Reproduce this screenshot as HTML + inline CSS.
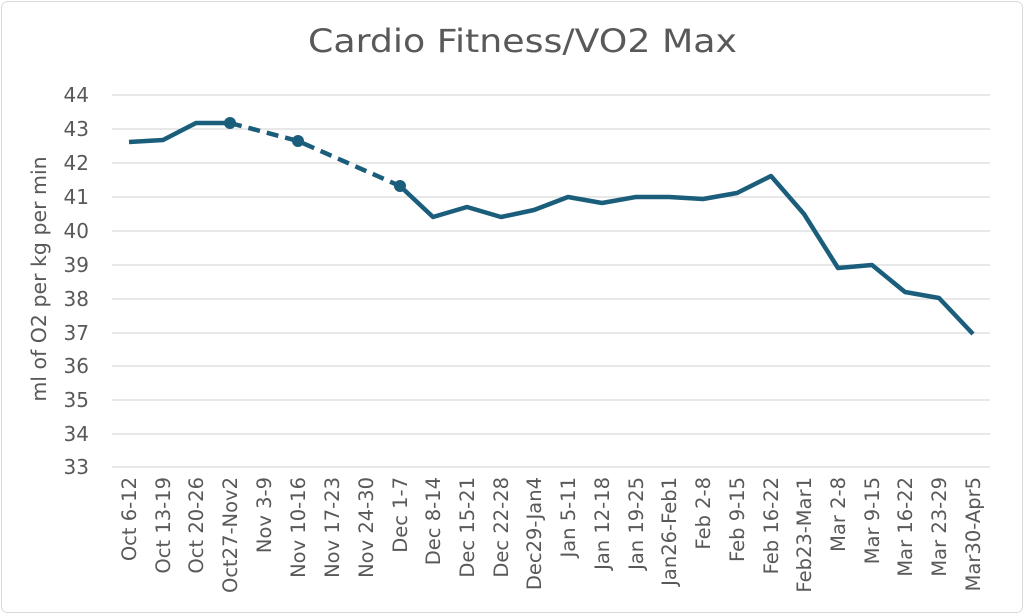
<!DOCTYPE html>
<html><head><meta charset="utf-8"><style>
html,body{margin:0;padding:0;background:#fff}
svg{display:block;font-family:"DejaVu Sans","Liberation Sans",sans-serif}
</style></head><body>
<svg width="1024" height="614" viewBox="0 0 1024 614">
<rect x="1.5" y="1.5" width="1021" height="611" rx="6" fill="#fff" stroke="#d9d9d9"/>
<text x="308" y="52" font-size="32" fill="#595959" textLength="429" lengthAdjust="spacingAndGlyphs">Cardio Fitness/VO2 Max</text>
<g stroke="#d9d9d9" stroke-width="1.3">
<line x1="112" x2="990" y1="95" y2="95"/><line x1="112" x2="990" y1="129" y2="129"/>
<line x1="112" x2="990" y1="163" y2="163"/><line x1="112" x2="990" y1="197" y2="197"/>
<line x1="112" x2="990" y1="231" y2="231"/><line x1="112" x2="990" y1="265" y2="265"/>
<line x1="112" x2="990" y1="299" y2="299"/><line x1="112" x2="990" y1="333" y2="333"/>
<line x1="112" x2="990" y1="366" y2="366"/><line x1="112" x2="990" y1="400" y2="400"/>
<line x1="112" x2="990" y1="434" y2="434"/><line x1="112" x2="990" y1="467" y2="467"/>
</g>
<g font-size="20" fill="#595959" text-anchor="end">
<text x="89" y="102">44</text><text x="89" y="136">43</text><text x="89" y="170">42</text>
<text x="89" y="204">41</text><text x="89" y="238">40</text><text x="89" y="272">39</text>
<text x="89" y="306">38</text><text x="89" y="340">37</text><text x="89" y="373">36</text>
<text x="89" y="407">35</text><text x="89" y="441">34</text><text x="89" y="474">33</text>
</g>
<text transform="translate(46,279) rotate(-90)" text-anchor="middle" font-size="20.5" fill="#595959">ml of O2 per kg per min</text>
<polyline fill="none" stroke="#1b5e7b" stroke-width="4.5" stroke-linejoin="round" points="129,142 163,140 196,123 230,123"/>
<polyline fill="none" stroke="#1b5e7b" stroke-width="4.5" stroke-dasharray="12,7" points="230,123 298,141 400,186"/>
<polyline fill="none" stroke="#1b5e7b" stroke-width="4.5" stroke-linejoin="round" points="400,186 433,217 467,207 501,217 534,210 568,197 602,203 636,197 669,197 703,199 737,193 771,176 804,214 838,268 872,265 905,292 939,298 973,334"/>
<g fill="#1b5e7b"><circle cx="230" cy="123" r="6"/><circle cx="298" cy="141" r="6"/><circle cx="400" cy="186" r="6"/></g>
<g font-size="19.5" fill="#595959" text-anchor="end">
<text transform="translate(136,477) rotate(-90)">Oct 6-12</text>
<text transform="translate(170,477) rotate(-90)">Oct 13-19</text>
<text transform="translate(203,477) rotate(-90)">Oct 20-26</text>
<text transform="translate(237,477) rotate(-90)">Oct27-Nov2</text>
<text transform="translate(271,477) rotate(-90)">Nov 3-9</text>
<text transform="translate(305,477) rotate(-90)">Nov 10-16</text>
<text transform="translate(339,477) rotate(-90)">Nov 17-23</text>
<text transform="translate(373,477) rotate(-90)">Nov 24-30</text>
<text transform="translate(407,477) rotate(-90)">Dec 1-7</text>
<text transform="translate(440,477) rotate(-90)">Dec 8-14</text>
<text transform="translate(474,477) rotate(-90)">Dec 15-21</text>
<text transform="translate(508,477) rotate(-90)">Dec 22-28</text>
<text transform="translate(541,477) rotate(-90)">Dec29-Jan4</text>
<text transform="translate(575,477) rotate(-90)">Jan 5-11</text>
<text transform="translate(609,477) rotate(-90)">Jan 12-18</text>
<text transform="translate(643,477) rotate(-90)">Jan 19-25</text>
<text transform="translate(676,477) rotate(-90)">Jan26-Feb1</text>
<text transform="translate(710,477) rotate(-90)">Feb 2-8</text>
<text transform="translate(744,477) rotate(-90)">Feb 9-15</text>
<text transform="translate(778,477) rotate(-90)">Feb 16-22</text>
<text transform="translate(811,477) rotate(-90)">Feb23-Mar1</text>
<text transform="translate(845,477) rotate(-90)">Mar 2-8</text>
<text transform="translate(879,477) rotate(-90)">Mar 9-15</text>
<text transform="translate(912,477) rotate(-90)">Mar 16-22</text>
<text transform="translate(946,477) rotate(-90)">Mar 23-29</text>
<text transform="translate(980,477) rotate(-90)">Mar30-Apr5</text>
</g>
</svg>
</body></html>
